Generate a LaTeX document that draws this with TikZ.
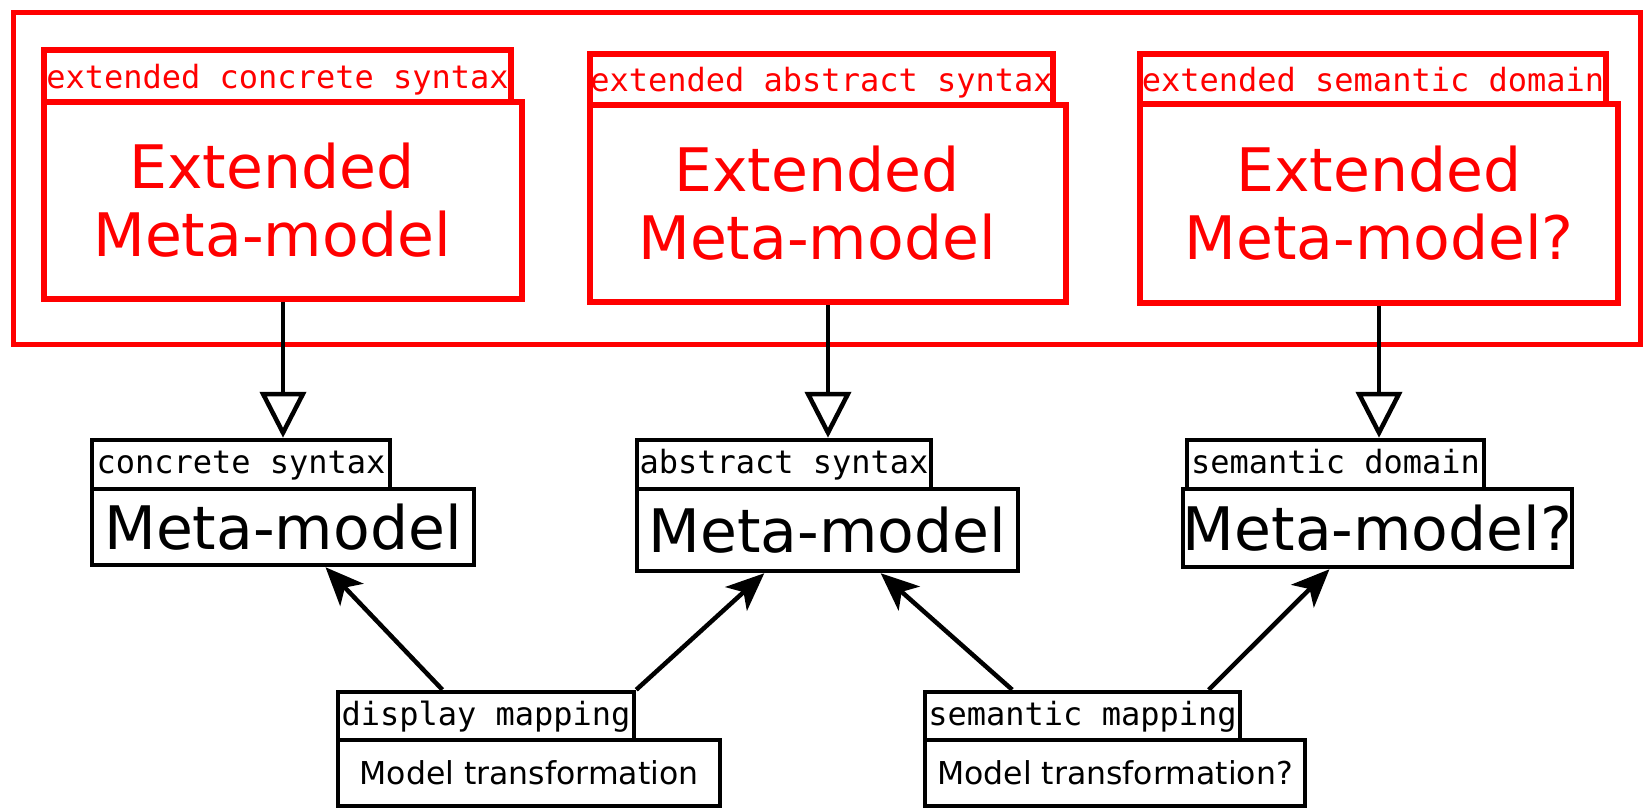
\documentclass[tikz,border=0pt]{standalone}
\usepackage{fontspec}
\newfontfamily\dvs{DejaVu Sans}
\newfontfamily\dvm{DejaVu Sans Mono}
\usetikzlibrary{arrows.meta,calc}
\begin{document}
\begin{tikzpicture}[x=1pt,y=-1pt,
  redbox/.style={draw=red, line width=5.5pt, rectangle, inner sep=0pt, text=red},
  blkbox/.style={draw=black, line width=4.5pt, rectangle, inner sep=0pt, text=black},
  tabtext/.style={font={\dvm\fontsize{32}{36}\selectfont}, text height=18pt, text depth=0pt},
  redtab/.style={tabtext, text height=24pt},
  bigtext/.style={font={\dvs\fontsize{60}{68}\selectfont}, align=center},
  midtext/.style={font={\dvs\fontsize{31.5}{36}\selectfont}},
  inherit/.style={draw=black, line width=4.5pt, -{Triangle[open, length=46pt, width=46pt]}},
  maparr/.style={draw=black, line width=4.5pt, -{Stealth[length=38pt, width=32pt, inset=10pt]}}
]
\useasboundingbox (0,0) rectangle (1643,809);
% outer red frame
\node[redbox, line width=5pt, minimum width=1627pt, minimum height=332pt] (frame) at (826.5,178) {};
% extended packages
\node[redbox, redtab, minimum width=467pt, minimum height=52pt] (et1) at (277.5,76) {extended concrete syntax};
\node[redbox, bigtext, minimum width=478pt, minimum height=197pt] (eb1) at (283,200.5) {Extended\hspace*{22pt}\\Meta-model\hspace*{22pt}};
\node[redbox, redtab, minimum width=463pt, minimum height=51pt] (et2) at (821.5,79.5) {extended abstract syntax};
\node[redbox, bigtext, minimum width=476pt, minimum height=197pt] (eb2) at (828,203.5) {Extended\hspace*{22pt}\\Meta-model\hspace*{22pt}};
\node[redbox, redtab, minimum width=466pt, minimum height=50pt] (et3) at (1373,79) {extended semantic domain};
\node[redbox, bigtext, minimum width=478pt, minimum height=199pt] (eb3) at (1379,203.5) {Extended\\Meta-model?};
% base packages
\node[blkbox, tabtext, minimum width=298pt, minimum height=49pt] (ta) at (241,464.5) {concrete syntax};
\node[blkbox, bigtext, minimum width=382pt, minimum height=76pt] (ba) at (283,527) {Meta-model};
\node[blkbox, tabtext, minimum width=294pt, minimum height=49pt] (tb) at (784,464.5) {abstract syntax};
\node[blkbox, bigtext, minimum width=381pt, minimum height=82pt] (bb) at (827.5,530) {Meta-model};
\node[blkbox, tabtext, minimum width=297pt, minimum height=49pt] (tc) at (1335.5,464.5) {semantic domain};
\node[blkbox, bigtext, minimum width=381pt, minimum height=78pt] (bc) at (1377.5,528) {Meta-model?};
% mappings
\node[blkbox, tabtext, minimum width=296pt, minimum height=48pt] (td) at (486,716) {display mapping};
\node[blkbox, midtext, minimum width=382pt, minimum height=66pt] (bd) at (529,773) {Model transformation};
\node[blkbox, tabtext, minimum width=315pt, minimum height=48pt] (te) at (1082.5,716) {semantic mapping};
\node[blkbox, midtext, minimum width=380pt, minimum height=66pt] (be) at (1115,773) {Model transformation?};
% inheritance arrows
\draw[inherit] (eb1.south) -- (ta.north -| eb1.south);
\draw[inherit] (eb2.south) -- (tb.north -| eb2.south);
\draw[inherit] (eb3.south) -- (tc.north -| eb3.south);
% mapping arrows
\draw[maparr] ($(td.north west)!0.355!(td.north east)$) -- ($(ba.south west)!0.61!(ba.south east)$);
\draw[maparr] (td.north east) -- ($(bb.south west)!0.336!(bb.south east)$);
\draw[maparr] ($(te.north west)!0.28!(te.north east)$) -- ($(bb.south west)!0.638!(bb.south east)$);
\draw[maparr] ($(te.north west)!0.895!(te.north east)$) -- ($(bc.south west)!0.378!(bc.south east)$);
\end{tikzpicture}
\end{document}
